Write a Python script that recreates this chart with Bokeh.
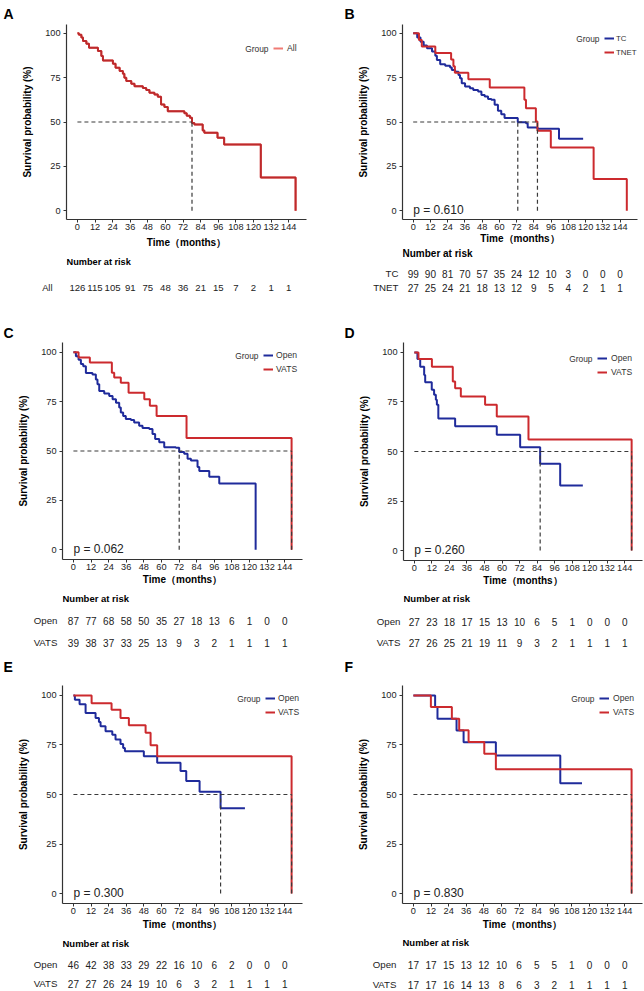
from bokeh.plotting import figure
from bokeh.layouts import column, row
from bokeh.models import Range1d, Legend, LegendItem, Label, FixedTicker
from bokeh.embed import file_html
from bokeh.resources import INLINE
from bokeh.core.properties import value

S = 1.0
FONT = "Liberation Sans"
RED = "#CC2A2E"
RED_A = "#BD2A2C"
BLUE = "#1F2B9B"
KEY_A = "#F07B74"
DARK = "#333333"

TIME_TICKS = [0, 12, 24, 36, 48, 60, 72, 84, 96, 108, 120, 132, 144]
SURV_TICKS = [0, 25, 50, 75, 100]
X_START, X_END = -7.44, 156.14
Y_START, Y_END = -5, 105

# ---------------- survival curves (time in months, survival in %) ----------------
A_all_time = [0, 1, 2.7, 3.8, 6.1, 7.9, 14.0, 16.3, 17.4, 24.2, 26.0, 28.8, 31.0, 32.0, 33.3, 36.7, 38.9,
              44.6, 46.9, 49.1, 52.5, 54.8, 57.0, 59.3, 61.6, 72.9, 74.5, 76.7, 78.1, 79.7, 85.4, 86.5,
              95.5, 100.0, 125.0, 148.7]
A_all_surv = [100, 99.2, 97.6, 95.7, 94.2, 91.9, 90.0, 87.2, 84.7, 82.9, 80.6, 78.7, 77.2, 75.0, 73.1, 71.6,
              70.2, 69.2, 68.1, 66.5, 65.5, 64.2, 59.9, 58.4, 56.1, 55.0, 53.5, 52.4, 49.5, 48.6, 45.2, 43.9,
              41.1, 37.3, 18.7, 0]

B_tc_time = [0, 2.8, 5.1, 7.3, 9.6, 13.1, 15.4, 16.5, 18.8, 22.3, 25.7, 26.9, 29.2, 31.5, 32.6, 33.8, 36.1,
             39.5, 41.8, 45.2, 47.5, 49.8, 52.1, 54.4, 56.7, 59.0, 61.3, 63.6, 72.8, 78.5, 79.7, 86.6,
             101.5, 118.3]
B_tc_surv = [100, 97.6, 95.3, 93.1, 91.6, 89.7, 87.4, 85.0, 82.6, 81.8, 80.7, 79.4, 78.4, 76.5, 74.7, 71.9,
             70.0, 69.0, 68.1, 67.2, 65.3, 64.4, 63.0, 62.5, 59.7, 56.3, 54.4, 52.2, 49.9, 49.3, 46.9, 46.2,
             40.5, 40.5]
B_tnet_time = [0, 4.0, 6.0, 15.4, 26.4, 28.0, 29.0, 38.4, 53.3, 77.4, 78.5, 85.4, 86.5, 95.8, 125.6, 148.7]
B_tnet_surv = [100, 96.3, 92.6, 88.9, 85.2, 81.5, 77.8, 74.1, 69.4, 62.5, 57.8, 50.3, 45.0, 35.6, 17.8, 0]

C_open_time = [0, 1.7, 3.5, 5.1, 6.7, 8.5, 13.0, 15.3, 16.4, 17.6, 21.0, 24.4, 26.7, 29.0, 31.2, 32.3, 33.9,
               35.7, 39.2, 41.4, 44.8, 47.1, 51.7, 53.9, 55.7, 58.5, 61.9, 69.8, 72.1, 75.5, 77.8, 80.1,
               84.6, 85.8, 92.6, 99.4, 124.2]
C_open_surv = [100, 98.0, 96.3, 94.1, 93.0, 89.6, 88.8, 86.3, 83.8, 80.4, 79.1, 77.9, 76.2, 74.5, 72.0, 69.5,
               67.8, 66.2, 65.7, 64.5, 62.8, 61.6, 61.1, 58.6, 56.1, 54.4, 51.9, 51.6, 49.5, 48.6, 46.1,
               45.2, 41.9, 39.9, 36.9, 33.5, 0]
C_vats_time = [0, 3.5, 11.2, 26.2, 27.8, 32.3, 37.6, 48.3, 52.1, 56.7, 77.1, 148.7]
C_vats_surv = [100, 97.4, 94.9, 89.7, 87.2, 84.6, 79.5, 76.2, 72.9, 67.8, 56.6, 0]

D_open_time = [0, 2.1, 4.0, 6.7, 7.4, 11.9, 13.5, 14.7, 15.4, 16.4, 27.9, 56.4, 72.4, 86.1, 99.8, 115.3]
D_open_surv = [100, 96.7, 92.8, 88.6, 85.0, 81.1, 78.6, 76.1, 73.6, 66.6, 62.7, 58.5, 52.2, 43.8, 32.9, 32.9]
D_vats_time = [0, 2.8, 12.0, 26.3, 27.9, 31.8, 48.4, 56.4, 78.1, 148.7]
D_vats_surv = [100, 96.7, 92.8, 85.3, 81.9, 77.8, 73.6, 67.7, 56.0, 0]

E_open_time = [0, 1.0, 4.2, 8.3, 15.1, 17.4, 18.5, 21.9, 26.5, 28.7, 32.1, 33.9, 35.1, 48.0, 57.1, 73.0,
               76.9, 86.0, 100.3, 116.9]
E_open_surv = [100, 97.8, 95.6, 91.1, 88.6, 86.6, 84.4, 81.9, 80.2, 77.7, 75.5, 73.5, 71.8, 69.3, 66.0, 61.8,
               56.8, 51.4, 43.0, 43.0]
E_vats_time = [0, 12.4, 26.0, 32.1, 37.8, 49.2, 52.6, 57.1, 148.7]
E_vats_surv = [100, 96.1, 92.8, 88.6, 84.9, 81.1, 74.9, 69.3, 0]

F_open_time = [0, 14.8, 16.4, 29.4, 34.2, 56.2, 100.1, 114.9]
F_open_surv = [100, 94.1, 88.2, 82.3, 76.4, 69.7, 55.7, 55.7]
F_vats_time = [0, 11.9, 26.2, 31.2, 37.6, 48.3, 56.2, 148.7]
F_vats_surv = [100, 94.1, 88.2, 82.4, 76.5, 70.6, 62.7, 0]

# ---------------- numbers at risk (at TIME_TICKS) ----------------
A_risk_all = [126, 115, 105, 91, 75, 48, 36, 21, 15, 7, 2, 1, 1]
B_risk_tc = [99, 90, 81, 70, 57, 35, 24, 12, 10, 3, 0, 0, 0]
B_risk_tnet = [27, 25, 24, 21, 18, 13, 12, 9, 5, 4, 2, 1, 1]
C_risk_open = [87, 77, 68, 58, 50, 35, 27, 18, 13, 6, 1, 0, 0]
C_risk_vats = [39, 38, 37, 33, 25, 13, 9, 3, 2, 1, 1, 1, 1]
D_risk_open = [27, 23, 18, 17, 15, 13, 10, 6, 5, 1, 0, 0, 0]
D_risk_vats = [27, 26, 25, 21, 19, 11, 9, 3, 2, 1, 1, 1, 1]
E_risk_open = [46, 42, 38, 33, 29, 22, 16, 10, 6, 2, 0, 0, 0]
E_risk_vats = [27, 27, 26, 24, 19, 10, 6, 3, 2, 1, 1, 1, 1]
F_risk_open = [17, 17, 15, 13, 12, 10, 6, 5, 5, 1, 0, 0, 0]
F_risk_vats = [17, 17, 16, 14, 13, 8, 6, 3, 2, 1, 1, 1, 1]

P_VALUES = {"B": "p = 0.610", "C": "p = 0.062", "D": "p = 0.260", "E": "p = 0.300", "F": "p = 0.830"}


def sc(v):
    return int(round(v * S))


def fs(px):
    return f"{px * S:.2f}px"


def median_time(t, s):
    for ti, si in zip(t, s):
        if si <= 50:
            return ti
    return None


def km_panel(cfg):
    pw = cfg["pw"]
    W = sc(pw)
    L = sc(cfg["fl"])
    R = W - sc(cfg["fr"])
    T = sc(cfg["ft"])
    KH = sc(cfg["km_h"])
    B = KH - sc(cfg["fb"])
    RH = sc(cfg["row_h"]) - KH
    fw = W - L - R
    fh = KH - T - B
    kx = fw / (X_END - X_START)
    ky = fh / (Y_END - Y_START)
    xr = Range1d(X_START, X_END)

    p = figure(width=W, height=KH, x_range=xr, y_range=Range1d(Y_START, Y_END),
               min_border_left=L, min_border_right=R, min_border_top=T, min_border_bottom=B,
               output_backend="svg", toolbar_location=None,
               background_fill_color="white", border_fill_color="white")
    p.outline_line_color = None
    p.grid.visible = False

    p.xaxis.ticker = FixedTicker(ticks=TIME_TICKS)
    p.yaxis.ticker = FixedTicker(ticks=SURV_TICKS)
    for ax in (p.xaxis[0], p.yaxis[0]):
        ax.axis_line_color = DARK
        ax.axis_line_width = 1.2
        ax.major_tick_line_color = DARK
        ax.major_tick_line_width = 1.0
        ax.major_tick_out = 3
        ax.major_tick_in = 0
        ax.minor_tick_line_color = None
        ax.major_label_text_font = FONT
        ax.major_label_text_font_size = fs(9.2)
        ax.major_label_text_color = "#222222"
        ax.axis_label_text_font = FONT
        ax.axis_label_text_font_size = fs(10)
        ax.axis_label_text_font_style = "bold"
        ax.axis_label_text_color = "black"
    p.xaxis.axis_label = "Time（months）"
    p.yaxis.axis_label = "Survival probability (%)"
    p.xaxis.major_label_standoff = 1
    p.yaxis.major_label_standoff = 3
    p.xaxis.axis_label_standoff = cfg["xlab_standoff"]
    p.yaxis.axis_label_standoff = 9

    # panel letter, placed in the top side panel (above the frame)
    p.add_layout(Label(x=X_START + (sc(cfg["letter_x"]) - L) / kx,
                       y=Y_END + (T - sc(cfg["letter_base"])) / ky,
                       text=cfg["letter"], text_align="left", text_baseline="alphabetic",
                       text_font=FONT, text_font_size=fs(14), text_font_style="bold",
                       text_color="black"), "above")

    renderers = []
    for (t, s, color, key_color, name) in cfg["curves"]:
        if key_color != color:
            key = p.step(x=t, y=s, mode="after", line_color=key_color, line_width=2.0)
            p.step(x=t, y=s, mode="after", line_color=color, line_width=2.0)
            renderers.append((name, key))
        else:
            r = p.step(x=t, y=s, mode="after", line_color=color, line_width=2.0)
            renderers.append((name, r))

    meds = [median_time(t, s) for (t, s, _, _, _) in cfg["curves"]]
    meds = [m for m in meds if m is not None]
    if meds:
        x0 = [0] + meds
        x1 = [max(meds)] + meds
        y0 = [50] + [0] * len(meds)
        y1 = [50] + [50] * len(meds)
        p.segment(x0=x0, y0=y0, x1=x1, y1=y1, line_color="#3a3a3a", line_width=1.2, line_dash="4 3")

    # legend
    n = len(renderers)
    lh, sp = 12, 2
    leg_top = sc(cfg["leg_c1"]) - lh / 2
    leg_bottom = leg_top + n * lh + (n - 1) * sp
    frame_bottom = KH - B
    legend = Legend(items=[LegendItem(label=nm, renderers=[r]) for nm, r in renderers],
                    location=(sc(cfg["leg_x"]) - L, frame_bottom - leg_bottom),
                    glyph_width=sc(10), glyph_height=lh, label_height=lh, label_width=10,
                    label_standoff=cfg["leg_standoff"], spacing=sp, padding=0, margin=0,
                    border_line_alpha=0, background_fill_alpha=0,
                    label_text_font=FONT, label_text_font_size=fs(cfg["leg_size"]),
                    label_text_color=DARK)
    p.add_layout(legend)
    gx = X_START + (sc(cfg["leg_x"] - 5) - L) / kx
    gy = Y_START + (frame_bottom - sc(cfg["leg_c1"])) / ky
    p.add_layout(Label(x=gx, y=gy, text="Group", text_align="right", text_baseline="middle",
                       text_font=FONT, text_font_size=fs(8.4), text_color=DARK))

    if cfg["letter"] in P_VALUES:
        p.add_layout(Label(x=0, y=0.5, text=P_VALUES[cfg["letter"]], text_align="left",
                           text_baseline="middle", text_font=FONT, text_font_size=fs(12),
                           text_color="#222222"))

    # risk table (same horizontal scale as the survival plot)
    rk = figure(width=W, height=RH, x_range=xr, y_range=Range1d(RH, 0),
                min_border_left=L, min_border_right=R, min_border_top=0, min_border_bottom=0,
                x_axis_location=None, y_axis_location="left", output_backend="svg",
                toolbar_location=None, background_fill_color="white", border_fill_color="white")
    rk.outline_line_color = None
    rk.grid.visible = False
    KHr = cfg["km_h"]
    rk.text(x=[X_START], y=[(cfg["head_y"] - KHr) * S], text=["Number at risk"],
            text_align="left", text_baseline="middle", text_font=value(FONT),
            text_font_style="bold", text_font_size=value(fs(cfg["head_size"])), text_color="black")
    row_ys = []
    overrides = {}
    for (name, ly, counts) in cfg["rows"]:
        yy = int(round((ly - KHr) * S))
        row_ys.append(yy)
        overrides[yy] = name
        rk.text(x=TIME_TICKS, y=[yy] * len(TIME_TICKS), text=[str(c) for c in counts],
                text_align="center", text_baseline="middle", text_font=value(FONT),
                text_font_size=value(fs(cfg["num_size"])), text_color="#222222")
    ya = rk.yaxis[0]
    ya.ticker = FixedTicker(ticks=row_ys)
    ya.major_label_overrides = overrides
    ya.axis_line_color = None
    ya.major_tick_line_color = None
    ya.minor_tick_line_color = None
    ya.major_tick_out = 0
    ya.major_tick_in = 0
    ya.major_label_standoff = cfg["rlab_std"]
    ya.major_label_text_font = FONT
    ya.major_label_text_font_size = fs(cfg["num_size"] - 0.3)
    ya.major_label_text_color = "#222222"
    return column(p, rk)


panels = {
    "A": dict(letter="A", pw=322, fl=66, fr=306, ft=24, fb=219, km_h=255, row_h=316, letter_x=3,
              letter_base=13.3, xlab_standoff=4, head_y=261.7, head_size=9.2, num_size=9.6,
              leg_x=273, leg_c1=48, leg_size=8.6, leg_standoff=4, rlab_std=14,
              curves=[(A_all_time, A_all_surv, RED_A, KEY_A, "All")],
              rows=[("All", 286.7, A_risk_all)]),
    "B": dict(letter="B", pw=322, fl=80, fr=315, ft=24, fb=219, km_h=247, row_h=316, letter_x=22,
              letter_base=13.3, xlab_standoff=0, head_y=253.3, head_size=10, num_size=10,
              leg_x=282, leg_c1=37.7, leg_size=7.9, leg_standoff=2, rlab_std=4,
              curves=[(B_tc_time, B_tc_surv, BLUE, BLUE, "TC"), (B_tnet_time, B_tnet_surv, RED, RED, "TNET")],
              rows=[("TC", 272.7, B_risk_tc), ("TNET", 287.3, B_risk_tnet)]),
    "C": dict(letter="C", pw=322, fl=62, fr=302, ft=25.7, fb=243.3, km_h=275, row_h=334, letter_x=3,
              letter_base=16.5, xlab_standoff=1, head_y=282, head_size=9.5, num_size=10,
              leg_x=263, leg_c1=39, leg_size=8.6, leg_standoff=3, rlab_std=5,
              curves=[(C_open_time, C_open_surv, BLUE, BLUE, "Open"), (C_vats_time, C_vats_surv, RED, RED, "VATS")],
              rows=[("Open", 304, C_risk_open), ("VATS", 325.7, C_risk_vats)]),
    "D": dict(letter="D", pw=322, fl=81, fr=320, ft=25.7, fb=244, km_h=275, row_h=334, letter_x=22,
              letter_base=16.5, xlab_standoff=1, head_y=282.3, head_size=9.5, num_size=10,
              leg_x=275, leg_c1=42.3, leg_size=8.6, leg_standoff=4, rlab_std=3,
              curves=[(D_open_time, D_open_surv, BLUE, BLUE, "Open"), (D_vats_time, D_vats_surv, RED, RED, "VATS")],
              rows=[("Open", 304.7, D_risk_open), ("VATS", 325.7, D_risk_vats)]),
    "E": dict(letter="E", pw=322, fl=62, fr=302, ft=35, fb=253.3, km_h=285, row_h=341, letter_x=3,
              letter_base=16, xlab_standoff=2, head_y=292.7, head_size=9.5, num_size=10,
              leg_x=265, leg_c1=47.7, leg_size=8.6, leg_standoff=3, rlab_std=5,
              curves=[(E_open_time, E_open_surv, BLUE, BLUE, "Open"), (E_vats_time, E_vats_surv, RED, RED, "VATS")],
              rows=[("Open", 314, E_risk_open), ("VATS", 333.3, E_risk_vats)]),
    "F": dict(letter="F", pw=322, fl=80, fr=320, ft=35, fb=253.3, km_h=285, row_h=341, letter_x=22,
              letter_base=16, xlab_standoff=2, head_y=291.7, head_size=9.5, num_size=10,
              leg_x=277, leg_c1=47.7, leg_size=8.6, leg_standoff=4, rlab_std=6,
              curves=[(F_open_time, F_open_surv, BLUE, BLUE, "Open"), (F_vats_time, F_vats_surv, RED, RED, "VATS")],
              rows=[("Open", 314, F_risk_open), ("VATS", 334, F_risk_vats)]),
}

layout = column(
    row(km_panel(panels["A"]), km_panel(panels["B"])),
    row(km_panel(panels["C"]), km_panel(panels["D"])),
    row(km_panel(panels["E"]), km_panel(panels["F"])),
)

open("out.html", "w").write(file_html(layout, INLINE))
